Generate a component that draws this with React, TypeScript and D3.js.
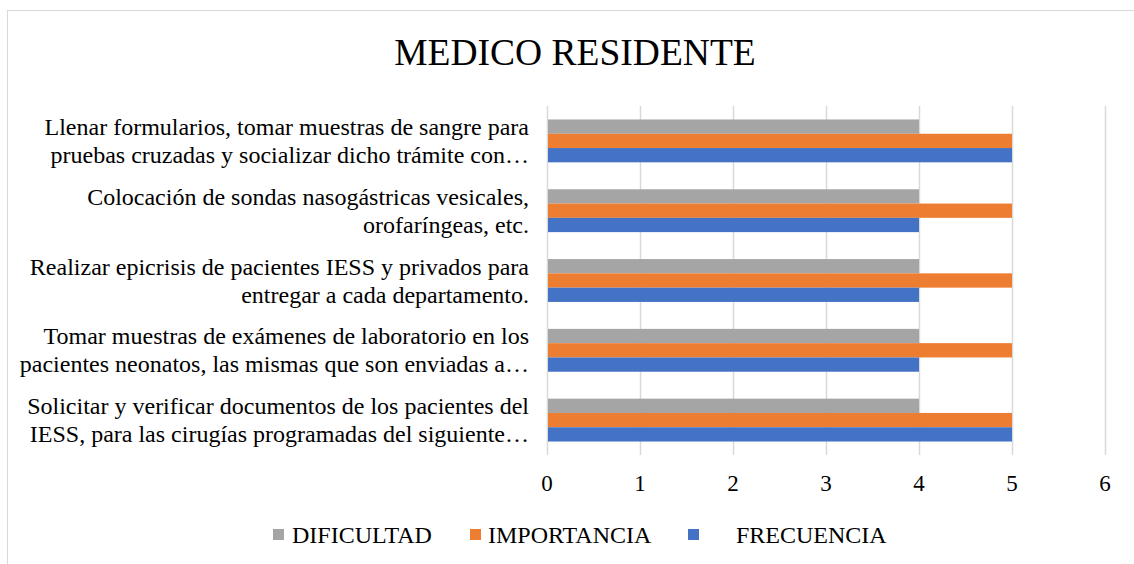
import React, { useRef, useEffect } from "react";
import * as d3 from "d3";

// categories top -> bottom, each split in two lines as in the chart
const categories = [
  ["Llenar formularios, tomar muestras de sangre para", "pruebas cruzadas y socializar dicho trámite con…"],
  ["Colocación de sondas nasogástricas vesicales,", "orofaríngeas, etc."],
  ["Realizar epicrisis de pacientes IESS y privados para", "entregar a cada departamento."],
  ["Tomar muestras de exámenes de laboratorio en los", "pacientes neonatos, las mismas que son enviadas a…"],
  ["Solicitar y verificar documentos de los pacientes del", "IESS, para las cirugías programadas del siguiente…"],
];

const dificultad = [4, 4, 4, 4, 4];
const importancia = [5, 5, 5, 5, 5];
const frecuencia = [5, 4, 4, 4, 5];

const seriesNames = ["DIFICULTAD", "IMPORTANCIA", "FRECUENCIA"];
const seriesColors = ["#a5a5a5", "#ed7d31", "#4472c4"];
const xTicks = [0, 1, 2, 3, 4, 5, 6];

const W = 1134;
const H = 564;
const FONT = "'Liberation Serif', 'Times New Roman', serif";

const App = () => {
  const svgRef = useRef<SVGSVGElement>(null);

  useEffect(() => {
    const svg = d3.select(svgRef.current);
    svg.selectAll("*").remove();

    // chart frame
    svg.append("rect")
      .attr("x", 7.5).attr("y", 10.5)
      .attr("width", W).attr("height", H)
      .attr("fill", "white")
      .attr("stroke", "#d9d9d9");

    svg.append("text")
      .attr("x", 575).attr("y", 65)
      .attr("text-anchor", "middle")
      .attr("font-family", FONT)
      .attr("font-size", 37.5)
      .attr("fill", "#000")
      .text("MEDICO RESIDENTE");

    const left = 547, right = 1105, top = 106, bottom = 455;
    const x = d3.scaleLinear().domain([0, 6]).range([left, right]);
    const y = d3.scaleBand<number>()
      .domain(d3.range(categories.length))
      .range([top, bottom])
      .paddingInner(0.386)
      .paddingOuter(0.193);
    const ys = d3.scaleBand<number>().domain([0, 1, 2]).range([0, y.bandwidth()]);

    // grid
    svg.append("g")
      .selectAll("line")
      .data(xTicks)
      .join("line")
      .attr("x1", d => x(d) + 0.5).attr("x2", d => x(d) + 0.5)
      .attr("y1", top).attr("y2", bottom)
      .attr("stroke", "#d9d9d9")
      .attr("stroke-width", 1.5);

    const series = [dificultad, importancia, frecuencia];
    series.forEach((vals, si) => {
      svg.append("g")
        .selectAll("rect")
        .data(vals)
        .join("rect")
        .attr("x", x(0) + 1)
        .attr("y", (_, i) => (y(i) as number) + (ys(si) as number))
        .attr("width", d => x(d) - x(0) - 1)
        .attr("height", ys.bandwidth())
        .attr("fill", seriesColors[si]);
    });

    // x tick labels
    svg.append("g")
      .selectAll("text")
      .data(xTicks)
      .join("text")
      .attr("x", d => x(d))
      .attr("y", 491)
      .attr("text-anchor", "middle")
      .attr("font-family", FONT)
      .attr("font-size", 23)
      .attr("fill", "#000")
      .text(d => String(d));

    // category labels
    const lab = svg.append("g");
    categories.forEach((lines, i) => {
      const cy = (y(i) as number) + y.bandwidth() / 2;
      const t = lab.append("text")
        .attr("x", 529)
        .attr("text-anchor", "end")
        .attr("font-family", FONT)
        .attr("font-size", 24)
        .attr("fill", "#000");
      lines.forEach((ln, k) => {
        t.append("tspan")
          .attr("x", 529)
          .attr("y", cy + (k === 0 ? -14 : 14) + 8)
          .text(ln);
      });
    });

    // legend
    const legendX = [273, 470, 688];
    const textX = [292, 488, 736];
    seriesNames.forEach((name, i) => {
      svg.append("rect")
        .attr("x", legendX[i]).attr("y", 529)
        .attr("width", 11).attr("height", 11)
        .attr("fill", seriesColors[i]);
      svg.append("text")
        .attr("x", textX[i]).attr("y", 543)
        .attr("font-family", FONT)
        .attr("font-size", 24)
        .attr("fill", "#000")
        .text(name);
    });
  }, []);

  return (
    <div style={{ position: "absolute", left: 0, top: 0 }}>
      <svg ref={svgRef} width={W} height={H} style={{ display: "block" }} />
    </div>
  );
};

export default App;
